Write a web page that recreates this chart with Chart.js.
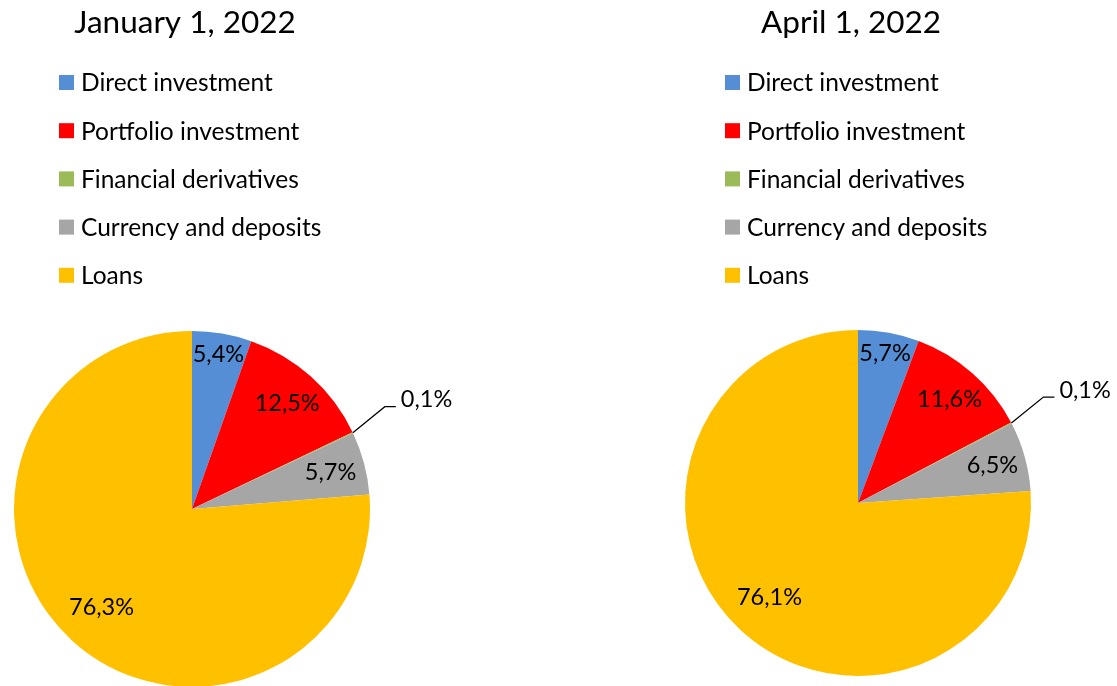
<!DOCTYPE html>
<html>
<head>
<meta charset="utf-8">
<script src="https://cdn.jsdelivr.net/npm/chart.js@4"></script>
<style>
  html, body { margin: 0; padding: 0; background: #fff; overflow: hidden; }
  .wrap { position: absolute; top: 0; height: 700px; }
  #left { left: 0; width: 560px; }
  #right { left: 560px; width: 557px; }
</style>
</head>
<body>
<div class="wrap" id="left"><canvas id="chartJan"></canvas></div>
<div class="wrap" id="right"><canvas id="chartApr"></canvas></div>
<script>
const categories = [
  "Direct investment",
  "Portfolio investment",
  "Financial derivatives",
  "Currency and deposits",
  "Loans",
];
const sliceColors = ["#558ED5", "#FF0000", "#9BBB59", "#A6A6A6", "#FFC000"];
const janValues = [5.4, 12.5, 0.1, 5.7, 76.3];
const aprValues = [5.7, 11.6, 0.1, 6.5, 76.1];
const janTitle = "January 1, 2022";
const aprTitle = "April 1, 2022";

const FONT = "Lato, 'Open Sans', sans-serif";

// title + vertical legend above the pie, placed relative to the pie centre
const headerPlugin = {
  id: "header",
  afterDraw(chart, args, opts) {
    const ctx = chart.ctx;
    const area = chart.chartArea;
    const cx = (area.left + area.right) / 2;
    ctx.save();
    ctx.fillStyle = "#000";
    ctx.font = `${opts.titleSize}px ${FONT}`;
    ctx.textAlign = "center";
    ctx.textBaseline = "middle";
    ctx.fillText(opts.text, cx - 7, 23);

    ctx.font = `${opts.legendSize}px ${FONT}`;
    ctx.textAlign = "left";
    const colors = chart.data.datasets[0].backgroundColor;
    chart.data.labels.forEach((label, i) => {
      const y = 82.5 + i * 48.2;
      ctx.fillStyle = colors[i];
      ctx.fillRect(cx - 133, y - 7.5, 15, 15);
      ctx.fillStyle = "#000";
      ctx.fillText(label, cx - 111, y + 1);
    });
    ctx.restore();
  },
};

// percentage labels, comma decimal like the original
const sliceLabelPlugin = {
  id: "sliceLabels",
  afterDatasetsDraw(chart, args, opts) {
    const ctx = chart.ctx;
    const meta = chart.getDatasetMeta(0);
    const values = chart.data.datasets[0].data;
    ctx.save();
    ctx.font = `${opts.size}px ${FONT}`;
    ctx.fillStyle = "#000";
    ctx.textBaseline = "middle";
    meta.data.forEach((arc, i) => {
      const { x, y, startAngle, endAngle, outerRadius } = arc.getProps(
        ["x", "y", "startAngle", "endAngle", "outerRadius"],
        true
      );
      const mid = (startAngle + endAngle) / 2;
      const pct = values[i];
      const text = pct.toFixed(1).replace(".", ",") + "%";

      if (pct < 1) {
        // tiny slice: label outside with a leader line
        const ex = x + outerRadius * Math.cos(mid);
        const ey = y + outerRadius * Math.sin(mid);
        const kx = ex + 32;
        const ky = ey - 26;
        ctx.strokeStyle = "#000";
        ctx.lineWidth = 1.25;
        ctx.beginPath();
        ctx.moveTo(ex, ey);
        ctx.lineTo(kx, ky);
        ctx.lineTo(kx + 11, ky);
        ctx.stroke();
        ctx.textAlign = "left";
        ctx.fillText(text, kx + 16, ky - 7);
        return;
      }

      let frac = 0.8;
      if (pct > 50) frac = 0.75;
      else if (pct < 8) frac = 0.78 + 0.1 * Math.abs(Math.sin(mid));
      ctx.textAlign = "center";
      ctx.fillText(
        text,
        x + outerRadius * frac * Math.cos(mid),
        y + outerRadius * frac * Math.sin(mid)
      );
    });
    ctx.restore();
  },
};

function makePie(canvasId, title, values, padding) {
  return new Chart(document.getElementById(canvasId), {
    type: "pie",
    data: {
      labels: categories,
      datasets: [
        {
          data: values,
          backgroundColor: sliceColors,
          borderWidth: 0,
        },
      ],
    },
    options: {
      responsive: true,
      maintainAspectRatio: false,
      animation: false,
      layout: { padding },
      plugins: {
        legend: { display: false },
        tooltip: { enabled: false },
        header: { text: title, titleSize: 31.5, legendSize: 24.5 },
        sliceLabels: { size: 23.5 },
      },
    },
    plugins: [headerPlugin, sliceLabelPlugin],
  });
}

document.fonts.load(`24px ${FONT}`).then(() => {
  makePie("chartJan", janTitle, janValues, { left: 14, top: 331, right: 190, bottom: 13 });
  makePie("chartApr", aprTitle, aprValues, { left: 125, top: 330, right: 86, bottom: 24 });
});
</script>
</body>
</html>
